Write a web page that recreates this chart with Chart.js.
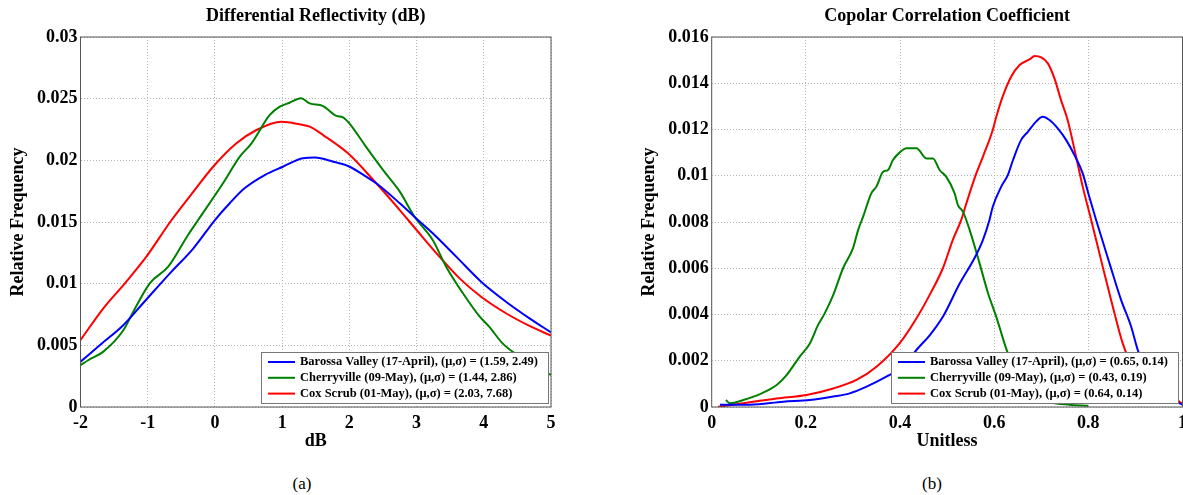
<!DOCTYPE html>
<html>
<head>
<meta charset="utf-8">
<script src="https://cdn.jsdelivr.net/npm/chart.js@4.4.1/dist/chart.umd.min.js"></script>
<style>
html, body { margin: 0; padding: 0; background: #fff; width: 1183px; height: 495px; overflow: hidden; }
.panel { position: absolute; top: 0; width: 600px; height: 460px; }
.cap { position: absolute; top: 474px; font-family: 'Liberation Serif', serif; font-size: 17px; transform: translateX(-50%); }
</style>
</head>
<body>
<div class="panel" style="left:0"><canvas id="zdrChart"></canvas></div>
<div class="panel" style="left:600px"><canvas id="rhoChart"></canvas></div>
<div class="cap" style="left:302px">(a)</div>
<div class="cap" style="left:932px">(b)</div>
<script>
const siteNames = ['Barossa Valley (17-April)', 'Cherryville (09-May)', 'Cox Scrub (01-May)'];
const lineColours = ['#0000ff', '#008000', '#ff0000'];

// (a) differential reflectivity, dB
const zdrStats = ['(1.59, 2.49)', '(1.44, 2.86)', '(2.03, 7.68)'];
const zdrBarossaX = [-2, -1.71, -1.36, -1.07, -0.67, -0.32, 0.0, 0.22, 0.44, 0.74, 1.01, 1.31, 1.49, 1.76, 1.98, 2.25, 2.40, 2.75, 3.02, 3.24, 3.59, 3.96, 4.33, 4.68, 5.0];
const zdrBarossaY = [0.00367, 0.00503, 0.00665, 0.00841, 0.01084, 0.01287, 0.01516, 0.01652, 0.01773, 0.01881, 0.01948, 0.02017, 0.02022, 0.01989, 0.01954, 0.01868, 0.01814, 0.01652, 0.01516, 0.01408, 0.01219, 0.01016, 0.00854, 0.00719, 0.00605];
const zdrCherryX = [-2, -1.88, -1.66, -1.36, -1.24, -0.97, -0.695, -0.40, -0.25, 0.12, 0.37, 0.544, 0.816, 0.965, 1.11, 1.28, 1.41, 1.61, 1.81, 1.905, 2.0, 2.23, 2.52, 2.75, 2.97, 3.24, 3.44, 3.69, 3.94, 4.08, 4.28, 4.53, 4.73, 5.0];
const zdrCherryY = [0.0034, 0.00381, 0.00449, 0.00624, 0.00746, 0.01003, 0.01138, 0.01395, 0.01516, 0.01814, 0.0203, 0.02138, 0.02368, 0.02435, 0.02467, 0.02503, 0.02462, 0.0244, 0.0236, 0.02349, 0.023, 0.02124, 0.01908, 0.01746, 0.01543, 0.01354, 0.01138, 0.00922, 0.00732, 0.00651, 0.00516, 0.00408, 0.00327, 0.0026];
const zdrCoxX = [-2, -1.66, -1.34, -1.02, -0.645, -0.30, -0.027, 0.32, 0.618, 0.99, 1.26, 1.41, 1.61, 1.98, 2.40, 2.75, 3.0, 3.34, 3.64, 3.96, 4.33, 4.68, 5.0];
const zdrCoxY = [0.00543, 0.0080, 0.01003, 0.01219, 0.01516, 0.0176, 0.01948, 0.02138, 0.02246, 0.02313, 0.02292, 0.02273, 0.02205, 0.02057, 0.01814, 0.01597, 0.01435, 0.01219, 0.01043, 0.00894, 0.0076, 0.00657, 0.00578];
const zdrXTicks = [-2, -1, 0, 1, 2, 3, 4, 5];
const zdrXLabels = ['-2', '-1', '0', '1', '2', '3', '4', '5'];
const zdrYTicks = [0, 0.005, 0.01, 0.015, 0.02, 0.025, 0.03];
const zdrYLabels = ['0', '0.005', '0.01', '0.015', '0.02', '0.025', '0.03'];

// (b) copolar correlation coefficient
const rhoStats = ['(0.65, 0.14)', '(0.43, 0.19)', '(0.64, 0.14)'];
const rhoBarossaX = [0.0176, 0.081, 0.152, 0.2085, 0.258, 0.293, 0.329, 0.371, 0.406, 0.438, 0.463, 0.491, 0.527, 0.558, 0.576, 0.590, 0.597, 0.615, 0.629, 0.64, 0.657, 0.6715, 0.689, 0.703, 0.7175, 0.735, 0.753, 0.774, 0.788, 0.802, 0.8165, 0.845, 0.8695, 0.891, 0.905, 0.93, 0.96, 0.99, 1.0];
const rhoBarossaY = [0.0001, 0.0001, 0.00023, 0.0003, 0.00045, 0.00059, 0.00088, 0.00131, 0.00174, 0.00254, 0.0031, 0.0039, 0.00535, 0.00643, 0.00722, 0.00809, 0.00866, 0.00953, 0.01003, 0.01068, 0.01154, 0.0119, 0.01234, 0.01255, 0.01241, 0.01205, 0.01154, 0.01075, 0.0101, 0.00909, 0.00809, 0.00621, 0.00463, 0.00347, 0.00246, 0.0013, 0.0006, 0.0002, 0.0001];
const rhoCherryX = [0.03, 0.039, 0.067, 0.106, 0.138, 0.159, 0.187, 0.2085, 0.226, 0.240, 0.258, 0.279, 0.300, 0.311, 0.3216, 0.339, 0.350, 0.364, 0.3745, 0.385, 0.399, 0.4136, 0.435, 0.456, 0.47, 0.484, 0.498, 0.516, 0.523, 0.5336, 0.548, 0.569, 0.587, 0.6045, 0.629, 0.65, 0.68, 0.72, 0.76, 0.80];
const rhoCherryY = [0.0003, 0.00016, 0.0003, 0.00059, 0.00095, 0.00138, 0.00218, 0.00275, 0.00355, 0.00405, 0.00484, 0.006, 0.00686, 0.00765, 0.00823, 0.00924, 0.00953, 0.01017, 0.01025, 0.01068, 0.011, 0.01119, 0.01119, 0.01075, 0.01075, 0.01025, 0.00996, 0.00924, 0.00873, 0.00845, 0.00765, 0.00621, 0.00492, 0.0039, 0.00232, 0.0014, 0.0006, 0.0002, 0.0001, 0.00005];
const rhoCoxX = [0.014, 0.046, 0.088, 0.138, 0.2015, 0.258, 0.3075, 0.350, 0.399, 0.435, 0.463, 0.491, 0.512, 0.530, 0.541, 0.562, 0.576, 0.597, 0.6045, 0.618, 0.636, 0.654, 0.675, 0.686, 0.70, 0.714, 0.728, 0.742, 0.756, 0.774, 0.788, 0.806, 0.8305, 0.852, 0.873, 0.90, 0.93, 0.97, 1.0];
const rhoCoxY = [0.00001, 0.0001, 0.00023, 0.00037, 0.00052, 0.0008, 0.00117, 0.00174, 0.00275, 0.00384, 0.00485, 0.006, 0.00722, 0.00809, 0.00881, 0.0101, 0.01082, 0.01198, 0.01255, 0.01342, 0.01428, 0.01479, 0.01503, 0.01518, 0.01512, 0.01486, 0.01421, 0.01327, 0.01241, 0.01082, 0.00953, 0.00809, 0.00607, 0.00434, 0.00275, 0.0015, 0.0009, 0.0006, 0.00012];
const rhoXTicks = [0, 0.2, 0.4, 0.6, 0.8, 1];
const rhoXLabels = ['0', '0.2', '0.4', '0.6', '0.8', '1'];
const rhoYTicks = [0, 0.002, 0.004, 0.006, 0.008, 0.01, 0.012, 0.014, 0.016];
const rhoYLabels = ['0', '0.002', '0.004', '0.006', '0.008', '0.01', '0.012', '0.014', '0.016'];

const serif = "'Liberation Serif', 'Times New Roman', serif";
const pts = (xs, ys) => xs.map((x, i) => ({x: x, y: ys[i]}));

// axes box + legend box in the lower right corner (like matlab)
const boxLegend = {
    id: 'boxLegend',
    afterDatasetsDraw(chart, args, opts) {
        const ctx = chart.ctx;
        const a = chart.chartArea;
        ctx.save();
        ctx.strokeStyle = '#555';
        ctx.lineWidth = 1;
        ctx.strokeRect(a.left, a.top, a.right - a.left, a.bottom - a.top);

        ctx.font = 'bold 12.5px ' + serif;
        const sets = chart.data.datasets;
        let w = 0;
        sets.forEach(d => { w = Math.max(w, ctx.measureText(d.label).width); });
        const bw = Math.round(w + 49), bh = 51;
        const bx = Math.round(a.right - opts.right - bw), by = Math.round(a.bottom - 4 - bh);
        ctx.fillStyle = '#fff';
        ctx.fillRect(bx, by, bw, bh);
        ctx.strokeStyle = '#777';
        ctx.strokeRect(bx + 0.5, by + 0.5, bw, bh);
        sets.forEach((d, i) => {
            const y = by + 10 + i * 15.8;
            ctx.strokeStyle = d.borderColor;
            ctx.lineWidth = 2;
            ctx.beginPath();
            ctx.moveTo(bx + 7, y);
            ctx.lineTo(bx + 34, y);
            ctx.stroke();
            ctx.fillStyle = '#000';
            ctx.textBaseline = 'middle';
            ctx.fillText(d.label, bx + 39, y);
        });
        ctx.restore();
    }
};

function makeChart(id, series, stats, xTicks, xLabels, yTicks, yLabels, p) {
    return new Chart(document.getElementById(id), {
        type: 'line',
        data: {
            datasets: series.map((s, i) => ({
                label: siteNames[i] + ', (\u03bc,\u03c3) = ' + stats[i],
                data: pts(s[0], s[1]),
                borderColor: lineColours[i],
                borderWidth: 2,
                pointRadius: 0,
                cubicInterpolationMode: 'monotone',
                fill: false
            }))
        },
        options: {
            responsive: true,
            maintainAspectRatio: false,
            animation: false,
            layout: { padding: { left: 0, right: p.padRight, top: 0, bottom: 0 } },
            plugins: {
                legend: { display: false },
                tooltip: { enabled: false },
                title: {
                    display: true,
                    text: p.title,
                    fullSize: false,
                    color: '#000',
                    font: { family: serif, size: 18, weight: 'bold' },
                    padding: { top: 6, bottom: 9.4 }
                },
                boxLegend: { right: p.legendRight }
            },
            scales: {
                x: {
                    type: 'linear',
                    min: xTicks[0],
                    max: xTicks[xTicks.length - 1],
                    afterBuildTicks: s => { s.ticks = xTicks.map(v => ({value: v})); },
                    afterFit: s => { s.height = 53; },
                    grid: { color: '#b5b5b5', drawTicks: false },
                    border: { display: false, dash: [1, 2] },
                    ticks: {
                        autoSkip: false, maxRotation: 0, padding: 6, color: '#000',
                        font: { family: serif, size: 18, weight: 'bold' },
                        callback: (v, i) => xLabels[i]
                    },
                    title: {
                        display: true, text: p.xTitle, color: '#000',
                        font: { family: serif, size: 18, weight: 'bold' },
                        padding: { top: 0, bottom: 7.5 }
                    }
                },
                y: {
                    min: yTicks[0],
                    max: yTicks[yTicks.length - 1],
                    afterBuildTicks: s => { s.ticks = yTicks.map(v => ({value: v})); },
                    afterFit: s => { s.width = p.yWidth; },
                    grid: { color: '#b5b5b5', drawTicks: false },
                    border: { display: false, dash: [1, 2] },
                    ticks: {
                        autoSkip: false, padding: 3, color: '#000',
                        font: { family: serif, size: 18, weight: 'bold' },
                        callback: (v, i) => yLabels[i]
                    },
                    title: {
                        display: true, text: 'Relative Frequency', color: '#000',
                        font: { family: serif, size: 18, weight: 'bold' },
                        padding: { top: p.yTitlePad, bottom: 0 }
                    }
                }
            }
        },
        plugins: [boxLegend]
    });
}

makeChart('zdrChart',
    [[zdrBarossaX, zdrBarossaY], [zdrCherryX, zdrCherryY], [zdrCoxX, zdrCoxY]],
    zdrStats, zdrXTicks, zdrXLabels, zdrYTicks, zdrYLabels,
    { title: 'Differential Reflectivity (dB)', xTitle: 'dB', padRight: 49, yWidth: 80.5, yTitlePad: 8, legendRight: 3 });

makeChart('rhoChart',
    [[rhoBarossaX, rhoBarossaY], [rhoCherryX, rhoCherryY], [rhoCoxX, rhoCoxY]],
    rhoStats, rhoXTicks, rhoXLabels, rhoYTicks, rhoYLabels,
    { title: 'Copolar Correlation Coefficient', xTitle: 'Unitless', padRight: 17.5, yWidth: 111.7, yTitlePad: 39, legendRight: 4.5 });
</script>
</body>
</html>
